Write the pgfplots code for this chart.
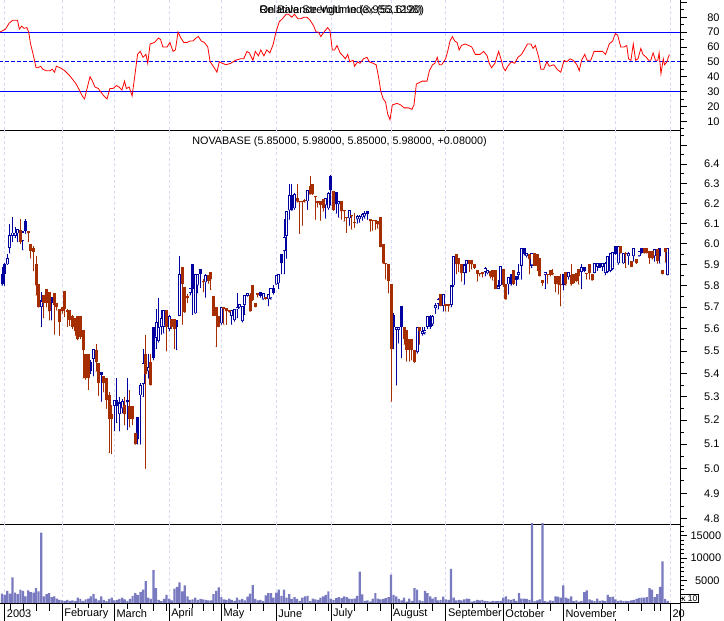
\documentclass[border=0pt]{standalone}
\usepackage{fontspec}
\setmainfont{Liberation Sans}
\usepackage{pgfplots}
\usepackage{pgfplotstable}
\pgfplotsset{compat=1.18}

\definecolor{upblue}{RGB}{0,0,160}
\definecolor{dnbrown}{RGB}{165,45,0}
\definecolor{volcol}{RGB}{122,122,192}
\definecolor{gridcol}{RGB}{218,218,245}
\definecolor{rsired}{RGB}{255,0,0}
\definecolor{lineblue}{RGB}{0,0,255}

% d = trading day (0 = 2 Jan 2003)
% hollow blue candles
\pgfplotstableread{
d o h l c
1 5.900 5.950 5.900 5.930
2 5.980 6.095 5.955 6.045
3 6.040 6.130 6.010 6.055
4 6.040 6.080 6.030 6.055
5 6.050 6.070 6.010 6.070
7 6.015 6.060 5.970 6.060
14 5.700 5.770 5.610 5.730
34 5.465 5.510 5.390 5.510
42 5.260 5.285 5.155 5.285
44 5.225 5.300 5.155 5.275
45 5.250 5.290 5.230 5.280
52 5.305 5.360 5.100 5.350
53 5.355 5.510 5.300 5.445
55 5.410 5.485 5.380 5.430
58 5.560 5.690 5.510 5.630
59 5.545 5.740 5.540 5.610
60 5.610 5.685 5.575 5.650
61 5.610 5.685 5.580 5.685
63 5.600 5.665 5.590 5.660
67 5.660 5.940 5.660 5.855
71 5.765 5.790 5.755 5.790
73 5.670 5.855 5.670 5.855
74 5.800 5.855 5.765 5.855
77 5.815 5.855 5.745 5.850
83 5.625 5.700 5.620 5.700
87 5.660 5.685 5.620 5.685
88 5.640 5.690 5.635 5.690
89 5.688 5.765 5.650 5.700
90 5.698 5.712 5.695 5.712
91 5.635 5.705 5.630 5.705
92 5.710 5.755 5.665 5.755
93 5.752 5.765 5.750 5.765
99 5.735 5.765 5.735 5.765
101 5.735 5.760 5.705 5.760
102 5.740 5.790 5.735 5.790
104 5.805 5.850 5.805 5.850
105 5.810 5.855 5.785 5.855
107 5.965 6.120 5.855 6.035
108 6.040 6.160 5.930 6.160
109 6.165 6.300 6.120 6.240
111 6.175 6.250 6.170 6.245
116 6.210 6.265 6.170 6.265
123 6.190 6.225 6.125 6.225
124 6.175 6.255 6.170 6.250
128 6.195 6.210 6.130 6.210
132 6.125 6.165 6.090 6.165
135 6.120 6.140 6.100 6.135
136 6.120 6.140 6.105 6.135
137 6.130 6.150 6.115 6.145
138 6.135 6.160 6.125 6.150
150 5.595 5.610 5.350 5.610
151 5.595 5.610 5.535 5.610
158 5.495 5.610 5.490 5.610
160 5.578 5.610 5.570 5.590
161 5.580 5.610 5.575 5.595
162 5.610 5.660 5.600 5.660
164 5.620 5.665 5.615 5.660
165 5.695 5.720 5.670 5.710
166 5.715 5.740 5.690 5.735
168 5.705 5.760 5.680 5.760
171 5.710 5.800 5.700 5.800
172 5.800 5.940 5.795 5.940
176 5.860 5.900 5.805 5.900
177 5.900 5.920 5.860 5.920
184 5.865 5.890 5.845 5.885
185 5.858 5.873 5.855 5.873
189 5.785 5.825 5.785 5.800
190 5.800 5.895 5.800 5.895
193 5.805 5.840 5.760 5.840
197 5.850 5.900 5.830 5.865
198 5.895 5.980 5.830 5.980
200 5.940 5.955 5.935 5.955
202 5.895 5.955 5.885 5.955
207 5.850 5.865 5.785 5.865
216 5.840 5.865 5.830 5.865
221 5.865 5.900 5.785 5.890
226 5.860 5.905 5.860 5.905
227 5.890 5.905 5.870 5.905
229 5.890 5.905 5.870 5.905
230 5.860 5.910 5.850 5.905
231 5.865 5.940 5.860 5.940
232 5.870 5.955 5.865 5.955
233 5.880 5.960 5.875 5.960
235 5.905 5.990 5.900 5.990
237 5.905 5.955 5.905 5.955
239 5.940 5.960 5.900 5.955
241 5.940 5.980 5.915 5.980
243 5.940 5.965 5.940 5.965
249 5.940 5.975 5.915 5.975
254 5.850 5.980 5.850 5.980
}\candU

% filled blue candles
\pgfplotstableread{
d o h l c
-1 5.855 5.886 5.800 5.805
0 5.900 5.905 5.800 5.855
8 6.110 6.120 6.050 6.060
18 5.745 5.745 5.640 5.720
33 5.450 5.460 5.400 5.410
37 5.405 5.405 5.280 5.395
43 5.285 5.380 5.190 5.260
47 5.285 5.380 5.160 5.275
51 5.215 5.215 5.100 5.120
57 5.610 5.610 5.460 5.470
66 5.640 5.640 5.505 5.610
72 5.900 5.900 5.665 5.785
75 5.880 5.880 5.790 5.855
98 5.770 5.770 5.745 5.750
103 5.790 5.800 5.760 5.765
106 5.950 5.950 5.855 5.905
110 6.240 6.300 6.165 6.165
125 6.340 6.345 6.190 6.265
127 6.255 6.255 6.150 6.195
139 6.160 6.160 6.120 6.145
149 5.665 5.670 5.510 5.610
152 5.705 5.705 5.470 5.610
163 5.660 5.665 5.600 5.610
194 5.855 5.855 5.800 5.805
196 5.845 5.845 5.800 5.825
199 5.980 5.980 5.945 5.950
214 5.855 5.855 5.780 5.800
222 5.890 5.890 5.865 5.870
228 5.905 5.905 5.885 5.885
234 5.990 5.990 5.950 5.950
244 5.980 5.980 5.955 5.955
251 5.980 5.980 5.905 5.940
}\candB

% filled brown candles
\pgfplotstableread{
d o h l c
6 6.065 6.120 6.000 6.010
9 6.060 6.060 6.010 6.050
10 6.000 6.000 5.930 5.965
11 5.980 5.990 5.870 5.960
12 5.900 5.940 5.755 5.800
13 5.805 5.805 5.700 5.700
15 5.755 5.755 5.650 5.720
16 5.785 5.785 5.700 5.720
17 5.770 5.770 5.640 5.680
19 5.765 5.765 5.575 5.710
20 5.720 5.720 5.685 5.700
21 5.690 5.690 5.570 5.630
22 5.700 5.700 5.670 5.680
23 5.775 5.775 5.655 5.690
24 5.685 5.690 5.610 5.675
25 5.685 5.685 5.615 5.640
26 5.660 5.665 5.600 5.610
27 5.650 5.650 5.570 5.590
28 5.660 5.660 5.550 5.555
29 5.660 5.660 5.555 5.565
30 5.595 5.595 5.380 5.505
31 5.485 5.485 5.375 5.380
32 5.485 5.485 5.330 5.380
35 5.505 5.530 5.410 5.450
36 5.445 5.445 5.305 5.360
38 5.390 5.390 5.320 5.360
39 5.380 5.380 5.250 5.285
40 5.305 5.320 5.065 5.205
41 5.225 5.265 5.060 5.205
46 5.265 5.300 5.180 5.225
48 5.260 5.330 5.170 5.205
49 5.260 5.260 5.180 5.205
50 5.145 5.145 5.100 5.100
54 5.485 5.570 5.000 5.400
56 5.450 5.485 5.350 5.350
62 5.685 5.685 5.500 5.610
64 5.645 5.645 5.600 5.610
65 5.645 5.645 5.510 5.600
68 5.890 5.890 5.620 5.805
69 5.795 5.795 5.675 5.675
70 5.750 5.760 5.720 5.740
76 5.820 5.830 5.770 5.815
78 5.850 5.850 5.810 5.820
79 5.865 5.865 5.780 5.830
80 5.750 5.750 5.660 5.660
81 5.700 5.700 5.520 5.660
82 5.660 5.660 5.610 5.610
84 5.700 5.700 5.620 5.690
85 5.695 5.695 5.620 5.680
86 5.685 5.685 5.675 5.678
94 5.755 5.765 5.680 5.680
95 5.800 5.800 5.730 5.730
96 5.720 5.720 5.700 5.700
97 5.765 5.765 5.745 5.755
100 5.745 5.745 5.735 5.738
112 6.225 6.300 6.205 6.210
113 6.210 6.210 6.050 6.205
114 6.210 6.210 6.090 6.205
115 6.215 6.220 6.205 6.210
117 6.290 6.340 6.245 6.245
118 6.300 6.300 6.245 6.245
119 6.235 6.235 6.120 6.230
120 6.210 6.210 6.180 6.200
121 6.210 6.210 6.115 6.190
122 6.220 6.220 6.160 6.175
126 6.260 6.260 6.165 6.165
129 6.210 6.210 6.120 6.160
130 6.165 6.165 6.110 6.160
131 6.130 6.130 6.055 6.125
133 6.140 6.140 6.070 6.135
134 6.105 6.150 6.080 6.100
140 6.120 6.120 6.060 6.110
141 6.115 6.115 6.065 6.110
142 6.115 6.115 6.070 6.110
143 6.110 6.110 6.075 6.095
144 6.130 6.130 5.985 5.985
145 6.000 6.000 5.905 5.905
146 5.905 5.905 5.830 5.900
147 5.900 5.900 5.765 5.820
148 5.805 5.805 5.280 5.510
153 5.610 5.610 5.530 5.555
154 5.595 5.595 5.455 5.505
155 5.555 5.555 5.455 5.505
156 5.555 5.555 5.460 5.505
157 5.505 5.505 5.450 5.450
159 5.610 5.610 5.530 5.590
167 5.760 5.760 5.705 5.705
169 5.715 5.715 5.680 5.705
170 5.715 5.715 5.680 5.705
173 5.950 5.950 5.855 5.900
174 5.930 5.930 5.865 5.900
175 5.900 5.900 5.820 5.860
178 5.920 5.920 5.866 5.900
179 5.920 5.920 5.877 5.900
180 5.900 5.900 5.880 5.885
181 5.873 5.873 5.820 5.855
182 5.860 5.860 5.845 5.853
183 5.862 5.862 5.840 5.852
186 5.870 5.870 5.835 5.845
187 5.873 5.873 5.825 5.840
188 5.873 5.873 5.785 5.785
191 5.880 5.880 5.795 5.800
192 5.805 5.805 5.735 5.735
195 5.875 5.875 5.805 5.805
201 5.950 5.950 5.855 5.925
203 5.955 5.955 5.895 5.895
204 5.950 5.950 5.870 5.895
205 5.930 5.930 5.845 5.845
206 5.825 5.825 5.800 5.810
208 5.855 5.855 5.810 5.850
209 5.875 5.875 5.845 5.850
210 5.860 5.880 5.850 5.852
211 5.845 5.845 5.770 5.805
212 5.845 5.845 5.760 5.805
213 5.805 5.855 5.705 5.800
215 5.865 5.865 5.800 5.805
217 5.850 5.900 5.800 5.805
218 5.855 5.855 5.810 5.810
219 5.860 5.860 5.820 5.820
220 5.880 5.880 5.805 5.845
223 5.860 5.860 5.830 5.855
224 5.900 5.900 5.830 5.860
225 5.855 5.855 5.825 5.825
236 5.990 5.990 5.955 5.955
238 5.955 5.960 5.885 5.950
240 5.915 5.915 5.890 5.890
242 5.925 5.925 5.905 5.905
245 5.980 5.980 5.955 5.955
246 5.980 5.980 5.955 5.955
247 5.965 5.965 5.905 5.930
248 5.965 5.965 5.925 5.930
250 5.975 5.975 5.905 5.915
252 5.875 5.875 5.855 5.855
253 5.980 5.980 5.910 5.960
}\candD

% volume, units of 10
\pgfplotstableread{
d v
-1 2100
0 1800
1 2700
2 2100
3 5700
4 2300
5 2000
6 3000
7 2700
8 1500
9 2800
10 2400
11 2300
12 3300
13 2600
14 15700
15 1500
16 2000
17 2200
18 1300
19 1500
20 1000
21 700
22 600
23 500
24 700
25 500
26 600
27 400
28 1200
29 900
30 500
31 800
32 1000
33 1500
34 2000
35 1000
36 600
37 1500
38 700
39 400
40 900
41 1200
42 600
43 700
44 900
45 1200
46 800
47 500
48 900
49 1600
50 2200
51 1800
52 2400
53 3000
54 4900
55 1200
56 900
57 7300
58 3300
59 700
60 400
61 900
62 1800
63 1000
64 600
65 3200
66 3600
67 4600
68 2600
69 3900
70 1500
71 700
72 800
73 1200
74 700
75 900
76 800
77 700
78 600
79 600
80 2000
81 2700
82 3500
83 1300
84 800
85 700
86 1000
87 700
88 500
89 1200
90 700
91 900
92 600
93 1400
94 2100
95 4000
96 900
97 600
98 700
99 400
100 1700
101 2200
102 2200
103 1200
104 2300
105 3000
106 1600
107 3000
108 1200
109 2000
110 900
111 1300
112 900
113 500
114 1200
115 1500
116 1600
117 400
118 1000
119 800
120 700
121 1200
122 1500
123 1800
124 2600
125 1000
126 700
127 1100
128 1300
129 1100
130 1500
131 1300
132 1000
133 900
134 1000
135 1600
136 7000
137 1900
138 500
139 600
140 300
141 1000
142 2200
143 1000
144 800
145 900
146 1100
147 1300
148 6300
149 1800
150 1500
151 900
152 600
153 1200
154 300
155 1000
156 500
157 3300
158 3000
159 600
160 400
161 2700
162 2200
163 1500
164 1000
165 1300
166 600
167 700
168 1400
169 800
170 700
171 7600
172 1200
173 600
174 700
175 600
176 800
177 1000
178 900
179 300
180 500
181 700
182 600
183 700
184 500
185 400
186 300
187 500
188 400
189 400
190 500
191 1200
192 1500
193 800
194 700
195 900
196 500
197 2200
198 1000
199 1000
200 900
201 700
202 18000
203 400
204 600
205 800
206 18000
207 400
208 300
209 600
210 500
211 1500
212 1400
213 1200
214 3900
215 1200
216 1000
217 1500
218 400
219 600
220 300
221 500
222 2400
223 2800
224 800
225 600
226 400
227 1000
228 500
229 600
230 400
231 1800
232 1300
233 1400
234 800
235 500
236 600
237 400
238 500
239 400
240 600
241 700
242 900
243 1100
244 1200
245 1200
246 1300
247 3300
248 3000
249 1300
250 2000
251 3600
252 9300
253 900
254 500
}\vol

\pgfplotsset{
  panel/.style={
    scale only axis, width=680pt, xmin=-1.8, xmax=258.7,
    anchor=south west,
    axis y line*=right, axis x line*=bottom,
    xtick={0,22,42,63,83,104,125,148,169,191,214,234,255},
    xticklabels={},
    xmajorgrids,
    major grid style={gridcol, dash pattern=on 3pt off 2.5pt, line width=0.8pt},
    tick align=outside,
    major tick length=7pt, minor tick length=3.5pt,
    tick style={black, line width=0.8pt},
    axis line style={black, line width=0.8pt},
    ticklabel style={font=\fontsize{11}{13}\selectfont},
    yticklabel style={text width=29pt, align=right},
    scaled y ticks=false,
    /pgf/number format/assume math mode=true,
  },
  cand/.style 2 args={only marks, mark=*, mark size=0.2pt, color=#1, forget plot,
    error bars/.cd, y dir=plus, y explicit, error mark=none,
    error bar style={draw=#1, line width=#2}},
}

\begin{document}
\begin{tikzpicture}
\path[use as bounding box] (0pt,0pt) rectangle (724pt,621pt);

% relative strength index
\begin{axis}[panel, at={(0pt,491pt)}, height=130pt,
  ymin=4.1, ymax=91.6,
  ytick={10,20,30,40,50,60,70,80,90},
  yticklabels={10,20,30,40,50,60,70,80,{}},
  minor ytick={5,15,25,35,45,55,65,75,85},
  xtick style={draw=none}]
\addplot[lineblue, line width=0.9pt] coordinates {(-2,70) (260,70)};
\addplot[lineblue, line width=0.9pt] coordinates {(-2,30) (260,30)};
\addplot[lineblue, line width=1.1pt, dash pattern=on 3.5pt off 2.5pt] coordinates {(-2,50) (260,50)};
\addplot[rsired, line width=0.8pt] coordinates {
(-1.8,70) (0.3,72) (1.7,76) (3.1,78) (4.9,78) (5.6,72) (6.5,74) (7.4,72.5) (8.5,73) (9.2,70)
(9.9,62) (10.9,55) (12,46) (12.7,46) (13.8,47) (14.6,45) (15.9,44) (17.3,44) (18.2,45) (19.1,43)
(19.8,47) (21.2,46) (23,44) (24.7,41) (26.1,38) (27.4,35) (28.6,31) (29.7,27) (30.6,25) (31.4,31)
(32.7,40) (33.6,37) (34.6,33) (35.9,32) (36.7,30) (38,27) (39.2,25) (40.3,32) (41.5,32) (42.8,34)
(43.8,33) (44.9,31) (45.9,37) (46.6,32) (47.7,33) (48.8,27) (49.8,40) (50.9,55) (51.9,57) (53,53)
(54.1,55) (54.8,49) (55.7,62) (57.4,63) (58.9,66) (59.7,65) (60.6,60) (62.2,60) (63.3,63) (64.5,57)
(65.4,58) (66.4,70) (67.5,66) (68.6,63) (69.8,63) (71,64) (72.1,64) (73.3,66) (74.2,67) (75.3,64)
(76.5,63) (77.8,60) (78.7,50) (79.9,47) (81.3,43) (82.2,50) (83.4,49) (84.8,48) (86.6,49) (88.4,51)
(90.2,52) (91.6,52) (92.8,57) (93.7,56) (95.1,51) (96,57) (97.2,54) (98.1,58) (99.3,54) (100.4,58)
(101.6,56) (102.9,62) (103.9,70) (105.2,77) (106.4,79) (107.8,82) (108.7,82) (110,80) (111,82) (112.3,79)
(113.5,79) (114.6,80) (115.8,80) (117,78) (118.4,74) (119.3,70) (120.2,70) (121.1,67) (122.3,70) (123.7,73)
(124.6,71) (125.5,58) (126.4,58) (127.3,61) (128.5,56) (129.6,54) (130.5,52) (131.4,55) (132.2,50) (133.5,51)
(134,47) (135.2,50) (136.1,49) (137.4,52) (138.8,53) (139.7,50) (141.1,49) (142.3,48) (143.2,40) (144.1,30)
(145,25) (145.9,23) (146.7,15) (147.6,11) (148.5,21) (150.3,22) (151.7,21) (153,19) (154.7,19) (156,18)
(156.8,21) (157.7,35) (158.8,36) (160,37) (161.8,37) (162.7,44) (163.9,48) (164.8,49) (165.7,53) (166.5,48)
(167.4,48) (168.9,52) (169.7,57) (170.6,64) (171.5,67) (172.4,64) (173.3,63) (174.1,58) (175,61) (176.4,62)
(177.7,61) (178.9,60) (180.3,55) (182.1,55) (183.5,57) (184.8,54) (185.6,49) (186.5,46) (187.8,49) (189.2,57)
(190.1,52) (191,46) (191.8,44) (192.7,47) (194.1,50) (195.4,49) (196.6,53) (198,55) (199.3,59) (200.3,62)
(201.6,62) (202.4,59) (203.3,61) (204.6,53) (205.4,45) (206.5,45) (207.7,50) (208.6,47) (210.4,48) (211.6,45)
(213,43) (214.3,51) (215.3,50) (216.6,52) (217.8,51) (219.2,48) (220.1,44) (221,51) (222.2,55) (223.1,51)
(224.5,51) (225.8,57) (227.2,57) (229,57) (230.2,55) (231.6,62) (232.9,64) (233.9,69) (234.8,68) (236,60)
(237.3,60) (238.3,61) (239,52) (239.9,51) (240.8,62) (241.7,51) (242.6,52) (243.7,59) (244.5,55) (245.8,53)
(246.7,51) (247.5,51) (248.4,56) (249.3,51) (250.2,51) (250.7,56) (251.4,42) (252.3,52) (252.8,48) (253.7,50)
(254.6,55)};
\end{axis}

% price
\begin{axis}[panel, at={(0pt,97pt)}, height=394pt,
  ymode=log, ymin=4.78, ymax=6.58,
  ytick={4.8,4.9,5.0,5.1,5.2,5.3,5.4,5.5,5.6,5.7,5.8,5.9,6.0,6.1,6.2,6.3,6.4,6.5},
  yticklabels={4.8,4.9,5.0,5.1,5.2,5.3,5.4,5.5,5.6,5.7,5.8,5.9,6.0,6.1,6.2,6.3,6.4,{}},
  minor ytick={4.85,4.95,5.05,5.15,5.25,5.35,5.45,5.55,5.65,5.75,5.85,5.95,6.05,6.15,6.25,6.35,6.45,6.55},
  xtick style={draw=none}]
% wicks
\addplot[cand={upblue}{1pt}] table[x=d, y=l, y error expr=\thisrow{h}-\thisrow{l}] {\candU};
\addplot[cand={upblue}{1pt}] table[x=d, y=l, y error expr=\thisrow{h}-\thisrow{l}] {\candB};
\addplot[cand={dnbrown}{1pt}] table[x=d, y=l, y error expr=\thisrow{h}-\thisrow{l}] {\candD};
% bodies
\addplot[cand={upblue}{3pt}] table[x=d, y=o, y error expr=\thisrow{c}-\thisrow{o}] {\candU};
\addplot[cand={upblue}{3pt}] table[x=d, y=c, y error expr=\thisrow{o}-\thisrow{c}] {\candB};
\addplot[cand={dnbrown}{3pt}] table[x=d, y=c, y error expr=\thisrow{o}-\thisrow{c}] {\candD};
% hollow interior
\addplot[cand={white}{1.1pt}] table[x=d, y expr=\thisrow{o}+0.005, y error expr=\thisrow{c}-\thisrow{o}-0.01] {\candU};
\end{axis}

% volume
\begin{axis}[panel, at={(0pt,18pt)}, height=79pt,
  ymin=0, ymax=17600,
  ytick={5000,10000,15000}, yticklabels={5000,10000,15000},
  minor ytick={1000,2000,3000,4000,6000,7000,8000,9000,11000,12000,13000,14000,16000,17000},
  xticklabels={2003,February,March,April,May,June,July,August,September,October,November,{},20},
  minor xtick={2,7,12,17,27,32,37,47,52,57,62,67,72,76,80,84,89,94,99,109,114,119,124,129,134,139,144,149,154,159,164,174,179,184,189,194,199,204,209,219,224,229,239,244,249,251},
  xtick style={/pgfplots/major tick length=18pt, /pgfplots/minor tick length=8pt},
  xticklabel style={anchor=west, fill=white, inner sep=0.5pt, xshift=1.5pt},
  xticklabel shift=4pt]
\addplot[ybar, bar width=2.2pt, bar shift=0pt, fill=volcol, draw=none] table[x=d, y=v] {\vol};
\end{axis}

\draw[line width=0.8pt] (680pt,0pt) -- (680pt,18pt);
\node[draw, line width=0.6pt, inner sep=1pt, anchor=south west, font=\fontsize{8.5}{9}\selectfont] at (680pt,18.5pt) {x 10};

\node[anchor=base west, font=\fontsize{11}{13}\selectfont] at (256pt,607pt) {Relative Strength Index (53.6120)};
\node[anchor=base west, font=\fontsize{11}{13}\selectfont] at (256pt,607pt) {On Balance Volume (3,955,1298)};
\node[anchor=base, font=\fontsize{10.8}{13}\selectfont] at (339.5pt,476pt) {NOVABASE (5.85000, 5.98000, 5.85000, 5.98000, +0.08000)};
\end{tikzpicture}
\end{document}
